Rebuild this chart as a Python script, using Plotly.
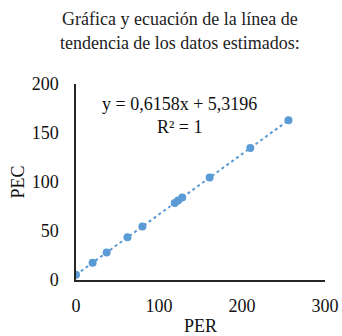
import numpy as np
import plotly.graph_objects as go

# Estimated data (PER vs PEC)
per = [0, 20, 37, 62, 80, 119, 123, 128, 161, 210, 256]
pec = [5.3, 17.6, 28.1, 43.5, 54.6, 78.6, 81.0, 84.1, 104.5, 134.6, 163.0]

# Linear trendline coefficients
slope = 0.6158
intercept = 5.3196
r2 = 1

x_ticks = [0, 100, 200, 300]
y_ticks = [0, 50, 100, 150, 200]

blue = "#5B9BD5"
font_family = "Liberation Serif, Times New Roman, serif"

trend_x = np.array([min(per), max(per)])
trend_y = slope * trend_x + intercept

fig = go.Figure()
fig.add_trace(go.Scatter(
    x=trend_x, y=trend_y, mode="lines",
    line=dict(color=blue, width=2, dash="dot"),
    hoverinfo="skip", showlegend=False,
))
fig.add_trace(go.Scatter(
    x=per, y=pec, mode="markers",
    marker=dict(color=blue, size=8),
    showlegend=False,
))

fig.add_annotation(
    x=0.414, y=0.837, xref="paper", yref="paper",
    text=f"y = {str(slope).replace('.', ',')}x + {str(intercept).replace('.', ',')}<br>R² = {r2}",
    showarrow=False, font=dict(family=font_family, size=18, color="#111"),
    align="center", xanchor="center", yanchor="middle",
)

fig.update_layout(
    width=342, height=336,
    margin=dict(l=76, r=17, t=84, b=56, autoexpand=False),
    paper_bgcolor="white", plot_bgcolor="white",
    font=dict(family=font_family, size=18, color="#111"),
    title=dict(
        text="Gráfica y ecuación de la línea de<br>tendencia de los datos estimados:",
        x=0.526, xanchor="center", y=0.925, yanchor="top",
        font=dict(family=font_family, size=18, color="#222"),
    ),
    xaxis=dict(
        range=[0, 300], tickvals=x_ticks, showgrid=False, zeroline=False,
        showline=True, linecolor="#262626", linewidth=1.5, ticks="",
        ticklabelstandoff=9, automargin=False,
        title=dict(text="PER", standoff=6, font=dict(size=18)),
    ),
    yaxis=dict(
        range=[0, 200], tickvals=y_ticks, showgrid=False, zeroline=False,
        showline=True, linecolor="#262626", linewidth=1.5, ticks="",
        ticklabelstandoff=12, automargin=False,
        title=dict(text="PEC", standoff=2, font=dict(size=18)),
    ),
)

fig.write_html("out.html")
